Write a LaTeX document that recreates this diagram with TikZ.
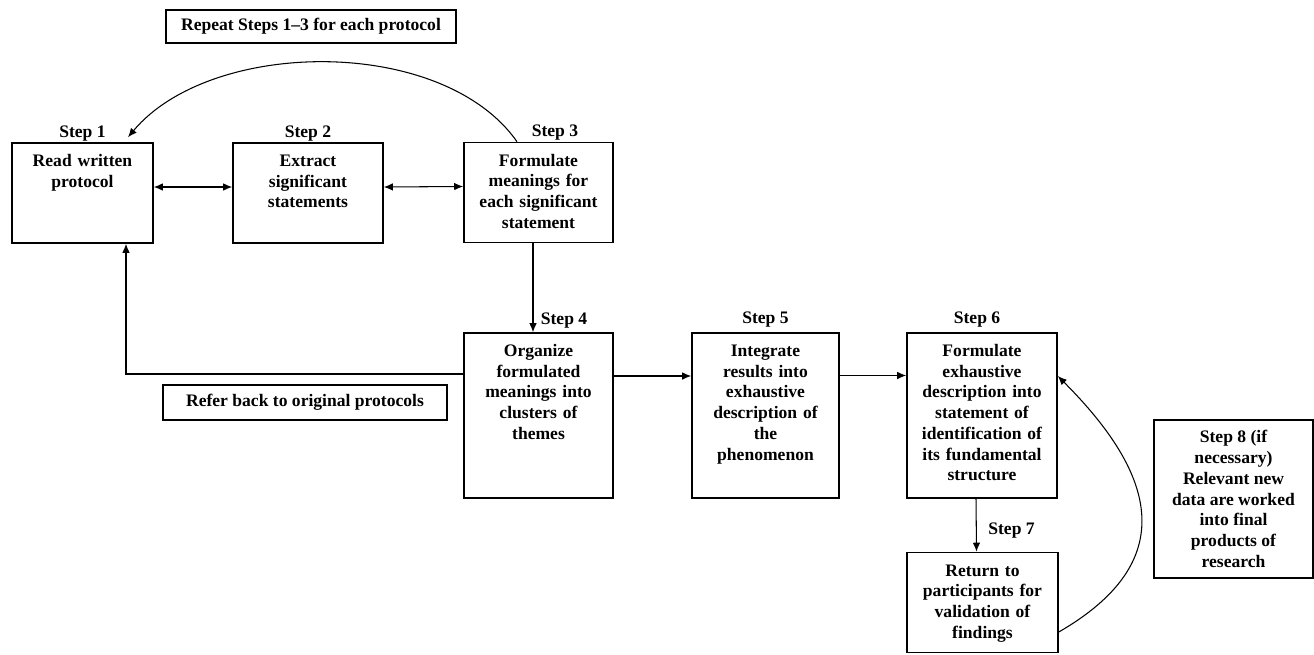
\documentclass[tikz,border=0pt]{standalone}
\usepackage{fontspec}
\setmainfont{Liberation Serif}
\usetikzlibrary{positioning,arrows.meta}
\begin{document}
\begin{tikzpicture}[x=0.02cm,y=-0.02cm,
  font=\fontsize{10}{11.8}\selectfont\bfseries,
  stepbox/.style={draw,line width=0.9pt,align=center,inner xsep=0pt,inner ysep=0.17cm,text height=0.3cm},
  stepshort/.style={stepbox,text width=#1,text depth=1.36cm},
  steptall/.style={stepbox,text width=#1,text depth=2.66cm},
  notebox/.style={draw,line width=0.9pt,inner sep=0pt,align=center},
  steplbl/.style={inner sep=0pt},
  conn/.style={line width=0.6pt,-{Latex[length=1.8mm,width=1.5mm]}},
  twoway/.style={line width=0.6pt,{Latex[length=1.8mm,width=1.5mm]}-{Latex[length=1.8mm,width=1.5mm]}}]
\useasboundingbox (0,0) rectangle (1314,655);
\node[stepshort=2.82cm] (s1) at (82.5,193) {Read written\\protocol};
\node[stepshort=3.0cm] (s2) at (308,193) {Extract\\significant\\statements};
\node[stepshort=2.98cm] (s3) at (538.5,192.5) {Formulate\\meanings for\\each significant\\statement};
\node[steptall=2.98cm] (s4) at (538.5,415.5) {Organize\\formulated\\meanings into\\clusters of\\themes};
\node[steptall=2.94cm] (s5) at (765.5,415.5) {Integrate\\results into\\exhaustive\\description of\\the\\phenomenon};
\node[steptall=3.0cm] (s6) at (982,415.5) {Formulate\\exhaustive\\description into\\statement of\\identification of\\its fundamental\\structure};
\node[stepshort=3.02cm] (s7) at (982.5,602.5) {Return to\\participants for\\validation of\\findings};
\node[notebox,minimum width=3.18cm,minimum height=3.16cm] (s8) at (1233.5,499) {Step 8 (if\\necessary)\\Relevant new\\data are worked\\into final\\products of\\research};
\node[notebox,minimum width=5.8cm,minimum height=0.66cm] (rep) at (311,26.5) {Repeat Steps 1--3 for each protocol};
\node[notebox,minimum width=5.68cm,minimum height=0.7cm] (ref) at (305,402.5) {Refer back to original protocols};
\node[steplbl,above=0.02cm of s1] (l1) {Step 1};
\node[steplbl,above=0.02cm of s2] (l2) {Step 2};
\node[steplbl,above=0.02cm of s3,xshift=0.33cm] (l3) {Step 3};
\node[steplbl,anchor=south west] (l4) at ([xshift=0.04cm,yshift=0.08cm]s4.north) {Step 4};
\node[steplbl,above=0.1cm of s5] (l5) {Step 5};
\node[steplbl,above=0.1cm of s6,xshift=-0.1cm] (l6) {Step 6};
\node[steplbl,anchor=south west] (l7) at ([xshift=0.11cm,yshift=0.26cm]s7.north) {Step 7};
\draw[twoway] ([yshift=0.12cm]s1.east) -- ([yshift=0.12cm]s2.west);
\draw[twoway] ([yshift=0.12cm]s2.east) -- ([yshift=0.12cm]s3.west);
\draw[conn] ([xshift=-0.43cm]s3.north) to[out=125,in=50,looseness=0.85] ([xshift=0.91cm,yshift=0.1cm]s1.north);
\draw[conn] ([xshift=-0.11cm]s3.south) -- ([xshift=-0.11cm]s4.north);
\draw[conn] ([yshift=0.83cm]s4.west) -| ([xshift=0.87cm]s1.south);
\draw[conn] ([yshift=0.79cm]s4.east) -- ([yshift=0.79cm]s5.west);
\draw[conn] ([yshift=0.8cm]s5.east) -- ([yshift=0.8cm]s6.west);
\draw[conn] ([xshift=-0.12cm]s6.south) -- ([xshift=-0.12cm]s7.north);
\draw[conn] ([yshift=-0.59cm]s7.east) to[out=30,in=-45,looseness=1.4] ([yshift=0.79cm]s6.east);
\end{tikzpicture}
\end{document}
